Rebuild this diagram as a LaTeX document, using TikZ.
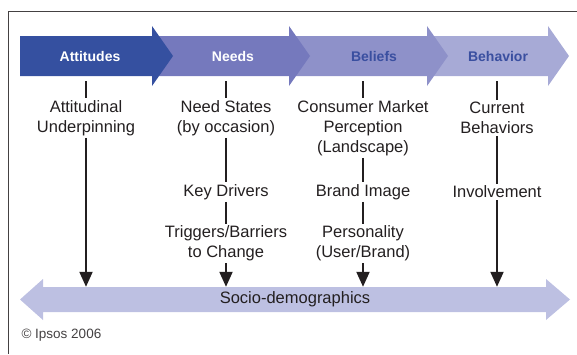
\documentclass[tikz,border=0pt]{standalone}
\usepackage{fontspec}
\setmainfont{Liberation Sans}
\usepackage{tikz}
\usetikzlibrary{arrows.meta}
\definecolor{catt}{HTML}{3550A0}
\definecolor{cneed}{HTML}{7579BD}
\definecolor{cbel}{HTML}{8E91C9}
\definecolor{cbeh}{HTML}{A7AAD6}
\definecolor{csoc}{HTML}{BDC0E2}
\definecolor{cink}{HTML}{231F20}
\definecolor{chdr}{HTML}{3A4FA0}

\begin{document}
\begin{tikzpicture}[
  x=1pt, y=-1pt,
  font=\fontsize{16.5}{20}\selectfont,
  hdr/.style={font=\fontsize{14}{16}\selectfont\bfseries, minimum height=50pt, inner sep=0pt},
  item/.style={align=center, inner sep=2pt, text=cink},
  link/.style={line width=2pt, draw=cink},
  flow/.style={link, -{Triangle[length=15pt, width=13pt]}},
]
\useasboundingbox (0,0) rectangle (577,354);
\draw[cink!85, line width=1pt] (577,11) -- (8,11) -- (8,354);

% =================== chevrons ===================
\foreach \l/\b/\c in {427/548/cbeh, 289/427/cbel, 152/289/cneed, 20/152/catt} {
  \fill[\c] (\l,36) -- (\b,36) -- (\b,26) -- (\b+21,56) -- (\b,86) -- (\b,76) -- (\l,76) -- cycle;
}
\node[hdr, text=white] (hatt) at (90,56) {Attitudes};
\node[hdr, text=white] (hneed) at (233,56) {Needs};
\node[hdr, text=chdr] (hbel) at (374,56) {Beliefs};
\node[hdr, text=chdr] (hbeh) at (498,56) {Behavior};

% =================== socio-demographics ===================
\fill[csoc] (20,299.5) -- (43,279) -- (43,287) -- (546,287) -- (546,279) -- (570,299.5)
  -- (546,320) -- (546,312) -- (43,312) -- (43,320) -- cycle;
\node[item, minimum height=25pt, inner sep=0pt] (socio) at (295,299.5) {Socio-demographics};

% =================== columns ===================
\node[item] (attA) at (86,118) {Attitudinal\\Underpinning};

\node[item] (needA) at (226,118) {Need States\\(by occasion)};
\node[item] (needB) at (226,192) {Key Drivers};
\node[item] (needC) at (226,243.5) {Triggers/Barriers\\to Change};

\node[item] (belA) at (363,128) {Consumer Market\\Perception\\(Landscape)};
\node[item] (belB) at (363,192) {Brand Image};
\node[item] (belC) at (363,243.5) {Personality\\(User/Brand)};

\node[item] (behA) at (497,118) {Current\\Behaviors};
\node[item] (behB) at (497,192) {Involvement};

\draw[link] (attA |- hatt.south) -- (attA);
\draw[link] (needA |- hneed.south) -- (needA);
\draw[link] (belA |- hbel.south) -- (belA);
\draw[link] (behA |- hbeh.south) -- (behA);

\draw[flow] (attA) -- (attA |- socio.north);
\draw[link] (needA) -- (needB);
\draw[link] (needB) -- (needC);
\draw[flow] (needC) -- (needC |- socio.north);
\draw[link] (belA) -- (belB);
\draw[link] (belB) -- (belC);
\draw[flow] (belC) -- (belC |- socio.north);
\draw[link] (behA) -- (behB);
\draw[flow] (behB) -- (behB |- socio.north);

\node[anchor=west, font=\fontsize{13.5}{16}\selectfont, text=cink!85] (copy) at (18,335) {© Ipsos 2006};
\end{tikzpicture}
\end{document}
